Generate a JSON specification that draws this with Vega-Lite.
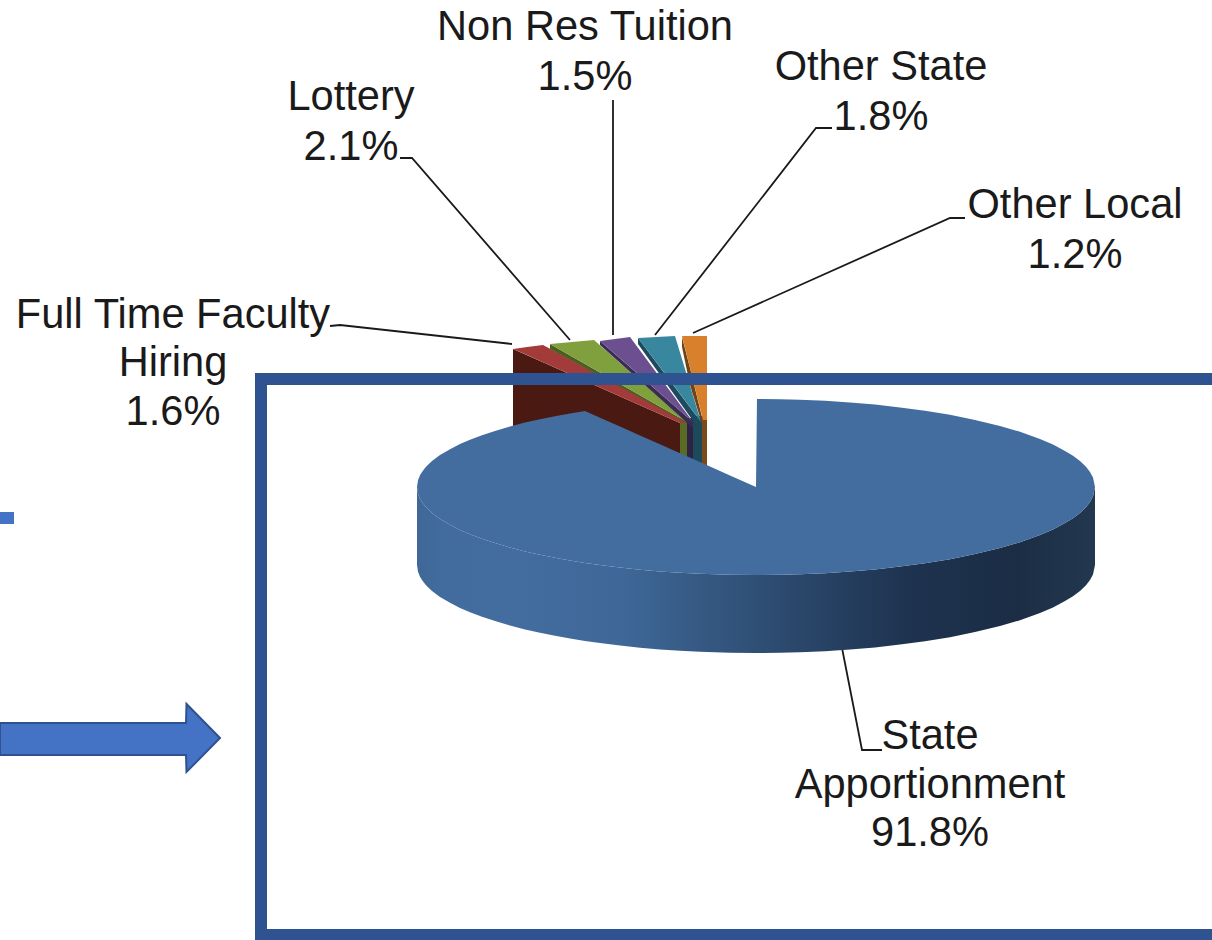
{"$schema":"https://vega.github.io/schema/vega-lite/v6.json","width":1212,"height":940,"autosize":"none","padding":0,"background":"#ffffff","config":{"view":{"stroke":null}},
"datasets":{
"side":[{"x":417,"y":487,"y2":565},{"x":418,"y":493.8,"y2":571.8},{"x":420,"y":498.7,"y2":576.7},{"x":422,"y":502,"y2":580},{"x":425,"y":506,"y2":584},{"x":427,"y":508.2,"y2":586.2},{"x":432,"y":512.9,"y2":590.9},{"x":435,"y":515.2,"y2":593.2},{"x":440,"y":518.9,"y2":596.9},{"x":447,"y":523.1,"y2":601.1},{"x":450,"y":524.8,"y2":602.8},{"x":460,"y":530,"y2":608},{"x":470,"y":534.3,"y2":612.3},{"x":482,"y":538.8,"y2":616.8},{"x":495,"y":543.1,"y2":621.1},{"x":510,"y":547.5,"y2":625.5},{"x":525,"y":551.4,"y2":629.4},{"x":540,"y":554.8,"y2":632.8},{"x":555,"y":557.8,"y2":635.8},{"x":570,"y":560.6,"y2":638.6},{"x":585,"y":563,"y2":641},{"x":600,"y":565.1,"y2":643.1},{"x":620,"y":567.6,"y2":645.6},{"x":640,"y":569.7,"y2":647.7},{"x":660,"y":571.4,"y2":649.4},{"x":680,"y":572.8,"y2":650.8},{"x":700,"y":573.8,"y2":651.8},{"x":730,"y":574.7,"y2":652.7},{"x":756,"y":575,"y2":653},{"x":780,"y":574.8,"y2":652.8},{"x":800,"y":574.3,"y2":652.3},{"x":825,"y":573.2,"y2":651.2},{"x":850,"y":571.6,"y2":649.6},{"x":875,"y":569.4,"y2":647.4},{"x":900,"y":566.6,"y2":644.6},{"x":925,"y":563.3,"y2":641.3},{"x":950,"y":559.2,"y2":637.2},{"x":975,"y":554.1,"y2":632.1},{"x":1000,"y":548.1,"y2":626.1},{"x":1020,"y":542.2,"y2":620.2},{"x":1040,"y":535,"y2":613},{"x":1053,"y":529.4,"y2":607.4},{"x":1065,"y":523.1,"y2":601.1},{"x":1073,"y":518.2,"y2":596.2},{"x":1080,"y":512.9,"y2":590.9},{"x":1086,"y":507.2,"y2":585.2},{"x":1090,"y":502,"y2":580},{"x":1093,"y":496.6,"y2":574.6},{"x":1095,"y":487,"y2":565}],
"face":[{"x":417,"y":487,"y2":487},{"x":418,"y":480.2,"y2":493.8},{"x":420,"y":475.3,"y2":498.7},{"x":422,"y":472,"y2":502},{"x":425,"y":468,"y2":506},{"x":427,"y":465.8,"y2":508.2},{"x":432,"y":461.1,"y2":512.9},{"x":435,"y":458.8,"y2":515.2},{"x":440,"y":455.1,"y2":518.9},{"x":447,"y":450.9,"y2":523.1},{"x":450,"y":449.2,"y2":524.8},{"x":460,"y":444,"y2":530},{"x":470,"y":439.7,"y2":534.3},{"x":482,"y":435.2,"y2":538.8},{"x":495,"y":430.9,"y2":543.1},{"x":510,"y":426.5,"y2":547.5},{"x":525,"y":422.6,"y2":551.4},{"x":540,"y":419.2,"y2":554.8},{"x":555,"y":416.2,"y2":557.8},{"x":570,"y":413.4,"y2":560.6},{"x":585,"y":411,"y2":563},{"x":600,"y":417.7,"y2":565.1},{"x":620,"y":426.6,"y2":567.6},{"x":640,"y":435.4,"y2":569.7},{"x":660,"y":444.3,"y2":571.4},{"x":680,"y":453.2,"y2":572.8},{"x":700,"y":462.1,"y2":573.8},{"x":730,"y":475.4,"y2":574.7},{"x":756,"y":487,"y2":575},{"x":757,"y":399,"y2":575},{"x":780,"y":399.2,"y2":574.8},{"x":800,"y":399.7,"y2":574.3},{"x":825,"y":400.8,"y2":573.2},{"x":850,"y":402.4,"y2":571.6},{"x":875,"y":404.6,"y2":569.4},{"x":900,"y":407.4,"y2":566.6},{"x":925,"y":410.7,"y2":563.3},{"x":950,"y":414.8,"y2":559.2},{"x":975,"y":419.9,"y2":554.1},{"x":1000,"y":425.9,"y2":548.1},{"x":1020,"y":431.8,"y2":542.2},{"x":1040,"y":439,"y2":535},{"x":1053,"y":444.6,"y2":529.4},{"x":1065,"y":450.9,"y2":523.1},{"x":1073,"y":455.8,"y2":518.2},{"x":1080,"y":461.1,"y2":512.9},{"x":1086,"y":466.8,"y2":507.2},{"x":1090,"y":472,"y2":502},{"x":1093,"y":477.4,"y2":496.6},{"x":1095,"y":487,"y2":487}],
"slices":[
{"part":"a wall red","x":513,"y":349,"y2":440},{"part":"a wall red","x":680,"y":423,"y2":480},
{"part":"b wall green","x":680,"y":418,"y2":480},{"part":"b wall green","x":687,"y":418,"y2":480},
{"part":"c wall purple","x":687,"y":418,"y2":480},{"part":"c wall purple","x":693,"y":418,"y2":480},
{"part":"d wall teal","x":693,"y":416,"y2":480},{"part":"d wall teal","x":702,"y":416,"y2":480},
{"part":"e wall orange","x":702,"y":414,"y2":480},{"part":"e wall orange","x":707,"y":414,"y2":480},
{"part":"f top red","x":513,"y":349,"y2":349},{"part":"f top red","x":527,"y":347,"y2":355},{"part":"f top red","x":543,"y":345,"y2":362.2},{"part":"f top red","x":680,"y":418.3,"y2":423},{"part":"f top red","x":687,"y":422,"y2":423},
{"part":"g shade green","x":550,"y":344,"y2":349},{"part":"g shade green","x":687,"y":422,"y2":423},
{"part":"h top green","x":550,"y":344,"y2":344},{"part":"h top green","x":594,"y":340,"y2":369},{"part":"h top green","x":687,"y":422,"y2":422},
{"part":"i shade purple","x":600,"y":341,"y2":345},{"part":"i shade purple","x":693,"y":422,"y2":428},
{"part":"j top purple","x":600,"y":341,"y2":341},{"part":"j top purple","x":630,"y":337,"y2":367},{"part":"j top purple","x":693,"y":422,"y2":422},
{"part":"k shade teal","x":638,"y":338,"y2":344},{"part":"k shade teal","x":701,"y":422,"y2":432},
{"part":"l top teal","x":638,"y":338,"y2":338},{"part":"l top teal","x":675,"y":336,"y2":387},{"part":"l top teal","x":701,"y":422,"y2":422},
{"part":"m shade orange","x":682,"y":337,"y2":347},{"part":"m shade orange","x":690,"y":368,"y2":385},{"part":"m shade orange","x":702,"y":417,"y2":424},
{"part":"n top orange","x":682,"y":336,"y2":336},{"part":"n top orange","x":703,"y":336,"y2":420},{"part":"n top orange","x":707,"y":336,"y2":420}
],
"frame":[{"x":255,"x2":1212,"y":373,"y2":385},{"x":255,"x2":267,"y":373,"y2":940},{"x":255,"x2":1212,"y":929,"y2":940}],
"tab":[{"x":0,"x2":14,"y":512,"y2":524}],
"arrow":[{"x":0,"y":723,"y2":755},{"x":186,"y":723,"y2":755},{"x":186.5,"y":704,"y2":772},{"x":220,"y":738,"y2":738}],
"leaders":[
{"k":"ft","i":0,"x":330,"y":326},{"k":"ft","i":1,"x":340,"y":325},{"k":"ft","i":2,"x":512,"y":344},
{"k":"lo","i":0,"x":400,"y":158},{"k":"lo","i":1,"x":412,"y":158},{"k":"lo","i":2,"x":570,"y":340},
{"k":"nr","i":0,"x":613,"y":100},{"k":"nr","i":1,"x":613,"y":335},
{"k":"os","i":0,"x":832,"y":128},{"k":"os","i":1,"x":816,"y":128},{"k":"os","i":2,"x":655,"y":335},
{"k":"ol","i":0,"x":965,"y":218},{"k":"ol","i":1,"x":950,"y":218},{"k":"ol","i":2,"x":693,"y":333},
{"k":"sa","i":0,"x":882,"y":750},{"k":"sa","i":1,"x":862,"y":750},{"k":"sa","i":2,"x":842,"y":648}],
"labels":[
{"t":"Non Res Tuition","x":585,"y":28},{"t":"1.5%","x":585,"y":78},
{"t":"Other State","x":881,"y":68},{"t":"1.8%","x":881,"y":118},
{"t":"Lottery","x":351,"y":98},{"t":"2.1%","x":351,"y":148},
{"t":"Other Local","x":1075,"y":206},{"t":"1.2%","x":1075,"y":256},
{"t":"Full Time Faculty","x":173,"y":316},{"t":"Hiring","x":173,"y":364},{"t":"1.6%","x":173,"y":413},
{"t":"State","x":930,"y":737},{"t":"Apportionment","x":930,"y":786},{"t":"91.8%","x":930,"y":834}]
},
"encoding":{
"x":{"field":"x","type":"quantitative","scale":{"domain":[0,1212],"nice":false,"zero":false},"axis":null},
"y":{"field":"y","type":"quantitative","scale":{"domain":[940,0],"nice":false,"zero":false},"axis":null,"stack":null}
},
"layer":[
{"data":{"name":"leaders"},"mark":{"type":"line","color":"#1a1a1a","strokeWidth":1.8},"encoding":{"detail":{"field":"k"},"order":{"field":"i"}}},
{"data":{"name":"slices"},"mark":{"type":"area"},"encoding":{"y2":{"field":"y2"},"color":{"field":"part","type":"nominal","legend":null,"scale":{"domain":["a wall red","b wall green","c wall purple","d wall teal","e wall orange","f top red","g shade green","h top green","i shade purple","j top purple","k shade teal","l top teal","m shade orange","n top orange"],"range":["#4a1a12","#5a6b26","#2e2246","#1c4a58","#7a4a1c","#a23b3a","#4c5e20","#80a03e","#3a2b55","#6b4f8e","#1d4a5c","#38879f","#6e4316","#d9802c"]}}}},
{"data":{"name":"frame"},"mark":{"type":"rect","color":"#2f5391"},"encoding":{"x2":{"field":"x2"},"y2":{"field":"y2"}}},
{"data":{"name":"tab"},"mark":{"type":"rect","color":"#4472c4"},"encoding":{"x2":{"field":"x2"},"y2":{"field":"y2"}}},
{"data":{"name":"arrow"},"mark":{"type":"area","color":"#4472c4","stroke":"#2f528f","strokeWidth":2},"encoding":{"y2":{"field":"y2"}}},
{"data":{"name":"side"},"mark":{"type":"area","color":{"gradient":"linear","x1":0,"x2":1,"y1":0,"y2":0,"stops":[{"offset":0,"color":"#3f6897"},{"offset":0.04,"color":"#426c9e"},{"offset":0.15,"color":"#436d9f"},{"offset":0.3,"color":"#3f6898"},{"offset":0.5,"color":"#2f4f75"},{"offset":0.72,"color":"#1e3350"},{"offset":0.88,"color":"#1b2d45"},{"offset":1,"color":"#22384f"}]}},"encoding":{"y2":{"field":"y2"}}},
{"data":{"name":"face"},"mark":{"type":"area","color":"#436d9f"},"encoding":{"y2":{"field":"y2"}}},
{"data":{"name":"labels"},"mark":{"type":"text","font":"Liberation Sans","fontSize":41.6,"color":"#1a1a1a","align":"center","baseline":"middle"},"encoding":{"text":{"field":"t"}}}
]}
